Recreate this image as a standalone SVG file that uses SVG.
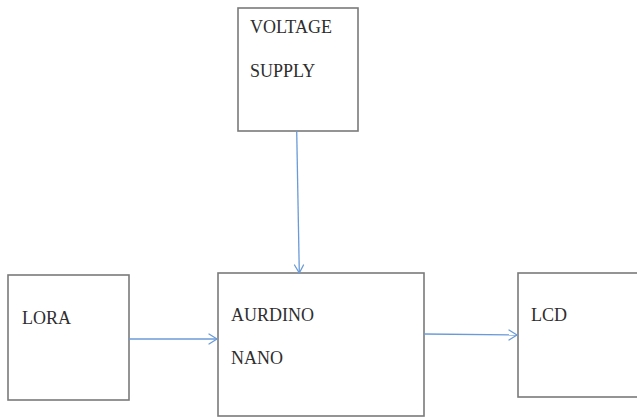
<svg xmlns="http://www.w3.org/2000/svg" width="637" height="419" viewBox="0 0 637 419">
<defs>
<style>
.box{fill:#fff;stroke:#7a7a7a;stroke-width:1.6}
.lbl{font-family:"Liberation Serif","Times New Roman",serif;font-size:18px;fill:#2e2e2e}
.wire{stroke:#6a9bd8;stroke-width:1.3;fill:none}
.head{stroke:#6a9bd8;stroke-width:1.3;fill:none;stroke-linecap:round;stroke-linejoin:round}
</style>
</defs>
<rect width="637" height="419" fill="#fff"/>
<g id="voltage">
<rect class="box" x="238" y="8" width="120" height="123"/>
<text class="lbl" x="250" y="33">VOLTAGE</text>
<text class="lbl" x="250" y="77">SUPPLY</text>
</g>
<g id="lora">
<rect class="box" x="8" y="275" width="121" height="125"/>
<text class="lbl" x="22" y="324">LORA</text>
</g>
<g id="nano">
<rect class="box" x="218" y="273" width="206" height="143"/>
<text class="lbl" x="231" y="321">AURDINO</text>
<text class="lbl" x="231" y="364">NANO</text>
</g>
<g id="lcd">
<rect class="box" x="518" y="273" width="121" height="124"/>
<text class="lbl" x="531" y="321">LCD</text>
</g>
<g id="connectors">
<line class="wire" x1="296.7" y1="131" x2="299.3" y2="273"/>
<polyline class="head" points="294.5,265 299.3,273 303.5,265"/>
<line class="wire" x1="129" y1="339" x2="217" y2="339"/>
<polyline class="head" points="209,334 217,339 209,344"/>
<line class="wire" x1="424" y1="334" x2="517" y2="335"/>
<polyline class="head" points="509,330 517,335 509,340"/>
</g>
</svg>
